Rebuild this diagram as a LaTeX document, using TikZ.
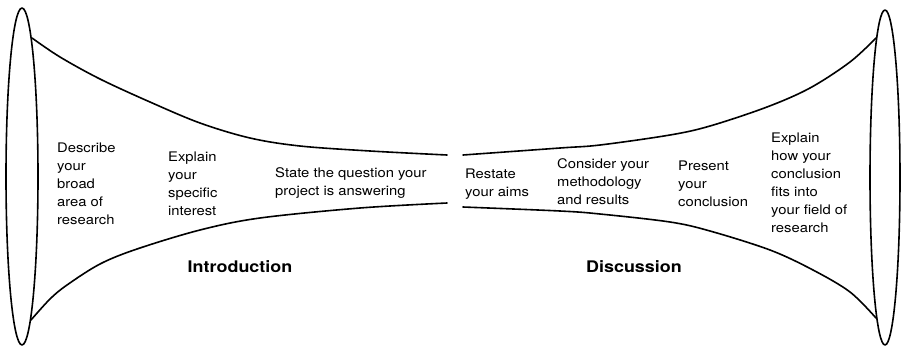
\documentclass[tikz,border=0pt]{standalone}
\usepackage{fontspec}
\setmainfont{TeX Gyre Heros}[FakeStretch=1.12]
\begin{document}
\begin{tikzpicture}[x=1pt,y=-1pt,
  funnel/.style={line width=1.6pt, line join=round, line cap=round},
  txt/.style={anchor=base west, align=left, inner sep=0pt, font=\fontsize{13.2}{18}\selectfont},
  head/.style={anchor=base, inner sep=0pt, font=\fontsize{16}{19}\selectfont\bfseries}]
\useasboundingbox (0,0) rectangle (903,346);
% mouths of the funnels
\draw[funnel] (22,176.5) ellipse [x radius=16pt, y radius=168.5pt];
\draw[funnel] (885,177.5) ellipse [x radius=15pt, y radius=167.5pt];
% left funnel
\draw[funnel] plot[smooth, tension=0.55] coordinates {(32,38) (60,57) (100,79) (150,102) (200,123) (250,138) (300,146) (370,151) (447,155)};
\draw[funnel] plot[smooth, tension=0.55] coordinates {(31,320) (50,299) (67,285) (100,264) (137,249) (200,230) (260,218) (360,208) (447,203)};
% right funnel
\draw[funnel] plot[smooth, tension=0.55] coordinates {(463,155) (560,148) (600,145) (670,135) (710,126) (767,107) (810,88) (850,62) (876,38)};
\draw[funnel] plot[smooth, tension=0.55] coordinates {(463,207) (560,211) (600,214) (670,222) (710,231) (770,250) (813,270) (850,292) (876,318)};
% texts (anchor is the baseline of the last line)
\node[txt] (describe) at (57,224) {Describe\\your\\broad\\area of\\research};
\node[txt] (explain) at (168,215) {Explain\\your\\specific\\interest};
\node[txt] (state) at (275,195) {State the question your\\project is answering};
\node[txt] (restate) at (465,196) {Restate\\your aims};
\node[txt] (consider) at (557,204) {Consider your\\methodology\\and results};
\node[txt] (present) at (678,206) {Present\\your\\conclusion};
\node[txt] (fits) at (771,232) {Explain\\how your\\conclusion\\fits into\\your field of\\research};
\node[head] (intro) at (240,272) {Introduction};
\node[head] (disc) at (634,272) {Discussion};
\end{tikzpicture}
\end{document}
